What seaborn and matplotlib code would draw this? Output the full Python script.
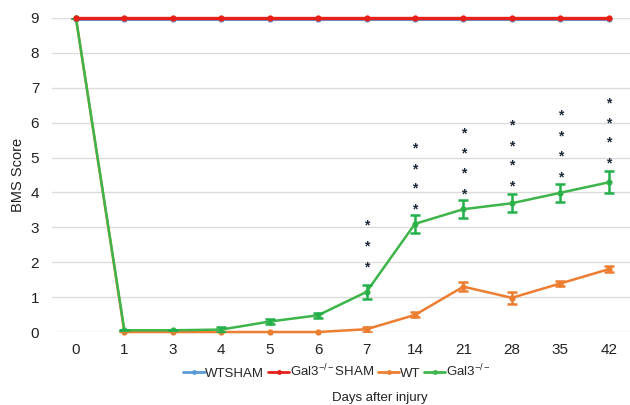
import numpy as np
import pandas as pd
import matplotlib
matplotlib.use("Agg")
import matplotlib.pyplot as plt
import seaborn as sns
from matplotlib.lines import Line2D

days = ["0", "1", "3", "4", "5", "6", "7", "14", "21", "28", "35", "42"]
wt_sham = [8.96] * 12
gal3_sham = [9.0] * 12
wt = [9.0, 0.0, 0.0, 0.0, 0.0, 0.0, 0.08, 0.49, 1.30, 0.98, 1.39, 1.80]
wt_err = [0, 0, 0, 0, 0, 0, 0.07, 0.07, 0.12, 0.17, 0.08, 0.08]
gal3 = [9.0, 0.05, 0.05, 0.07, 0.30, 0.48, 1.15, 3.10, 3.52, 3.69, 3.99, 4.29]
gal3_err = [0, 0, 0, 0.07, 0.08, 0.07, 0.21, 0.25, 0.25, 0.26, 0.26, 0.32]
# asterisk marker positions (y) per day index
star_days = [6, 7, 8, 9, 10, 11]
star_y = [
    [1.86, 2.46, 3.04],
    [3.50, 4.10, 4.67, 5.27],
    [3.95, 4.53, 5.13, 5.70],
    [4.18, 4.76, 5.33, 5.93],
    [4.44, 5.02, 5.59, 6.20],
    [4.82, 5.42, 5.99, 6.56],
]
series_names = ["WTSHAM", "Gal3SHAM", "WT", "Gal3"]
legend_labels = ["WTSHAM", r"Gal3$^{\mathregular{-/-}}$SHAM", "WT", r"Gal3$^{\mathregular{-/-}}$"]
colors = {"WTSHAM": "#5b9bd5", "Gal3SHAM": "#e8201a", "WT": "#ed7d31", "Gal3": "#3db54a"}

df = pd.DataFrame({
    "day": days * 4,
    "score": wt_sham + gal3_sham + wt + gal3,
    "series": sum([[s] * 12 for s in series_names], []),
})

sns.set_style("white")
plt.rcParams["font.family"] = ["Liberation Sans", "DejaVu Sans"]
plt.rcParams["mathtext.fontset"] = "custom"
plt.rcParams["mathtext.rm"] = "Liberation Sans"
plt.rcParams["mathtext.it"] = "Liberation Sans"

fig = plt.figure(figsize=(6.3, 4.05), dpi=100)
ax = fig.add_axes([0.0821, 0.1802, 0.9179, 0.7754])

sns.lineplot(data=df, x="day", y="score", hue="series", hue_order=series_names,
             palette=colors, sort=False, marker="o", markersize=4.5,
             markeredgewidth=0, linewidth=2.0, ax=ax, legend=False)
lws = {"WTSHAM": 2.2, "Gal3SHAM": 2.4, "WT": 1.8, "Gal3": 1.8}
for line, s in zip(ax.lines, series_names):
    line.set_clip_on(False)
    line.set_linewidth(lws[s])
ax.lines[1].set_zorder(4)

x = np.arange(len(days))
ax.errorbar(x, wt, yerr=wt_err, fmt="none", ecolor="#ed7d31", elinewidth=1.8,
            capsize=3.5, capthick=1.8, zorder=3)
ax.errorbar(x, gal3, yerr=gal3_err, fmt="none", ecolor="#22b04b", elinewidth=1.8,
            capsize=3.5, capthick=1.8, zorder=3)

for d, ys in zip(star_days, star_y):
    for yv in ys:
        ax.text(d, yv, "*", ha="center", va="center", fontsize=10,
                color="#1e2a3a", fontweight="bold")

ax.set_xlim(-0.5, 11.44)
ax.set_ylim(0, 9)
ax.set_yticks(range(0, 10))
ax.yaxis.grid(True, color="#dcdcdc", linewidth=1.0)
ax.set_axisbelow(True)
for sp in ax.spines.values():
    sp.set_visible(False)
ax.tick_params(axis="both", length=0, labelsize=11, colors="#222222")
ax.tick_params(axis="x", pad=8)
ax.tick_params(axis="y", pad=9)
ax.set_xlabel("")
ax.set_ylabel("BMS Score", fontsize=10.5, color="#222222", labelpad=4)

handles = [Line2D([0], [0], color=colors[s], lw=2, marker="o", markersize=3.5,
                  markeredgewidth=0) for s in series_names]
fig.legend(handles, legend_labels, loc="center", bbox_to_anchor=(0.535, 0.083),
           ncol=4, frameon=False, fontsize=9.5, handlelength=1.6,
           handletextpad=0.05, columnspacing=0.3)
fig.text(0.603, 0.017, "Days after injury", ha="center", va="center",
         fontsize=9.5, color="#222222")

fig.savefig("out.png", dpi=100)
